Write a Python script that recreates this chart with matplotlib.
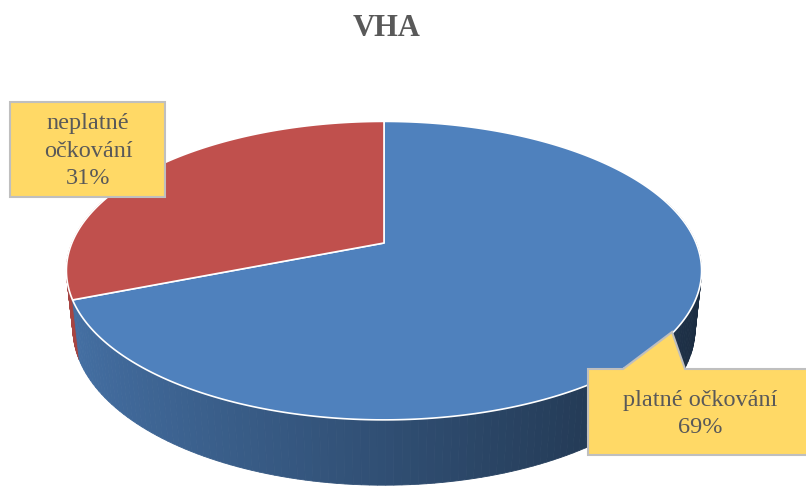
import numpy as np
import matplotlib.pyplot as plt
from matplotlib.patches import Polygon, FancyBboxPatch
from matplotlib.colors import to_rgb

# data
labels = ['platné očkování', 'neplatné očkování']
values = [69, 31]
colors = ['#4F81BD', '#C0504D']
title = 'VHA'

# 3d pie geometry (pixels)
cx, cy = 384, 243
elev = np.radians(27.5)
D = 4.79
f = 1495
T = 0.21


def proj(t, h):
    x = np.cos(t)
    z = np.sin(t)
    yc = h * np.cos(elev) + z * np.sin(elev)
    zc = -h * np.sin(elev) + z * np.cos(elev)
    return cx + f * x / (D + zc), cy - f * yc / (D + zc)


def shade(col, t):
    # light from the left, darker to the right
    k = np.clip(0.88 - 0.27 * (1 + np.cos(t)), 0.35, 1)
    return tuple(np.clip(np.array(to_rgb(col)) * k, 0, 1))


fig = plt.figure(figsize=(8.06, 4.86), dpi=100)
ax = fig.add_axes([0, 0, 1, 1])
ax.set_xlim(0, 806)
ax.set_ylim(486, 0)
ax.axis('off')

# slice angles, start at 12 o'clock, clockwise
total = sum(values)
bounds = [np.pi / 2]
for v in values:
    bounds.append(bounds[-1] - 2 * np.pi * v / total)

# side walls, back to front
segs = []
for i, col in enumerate(colors):
    t0, t1 = bounds[i + 1], bounds[i]
    ts = np.linspace(t0, t1, 200)
    for a, b in zip(ts[:-1], ts[1:]):
        depth = np.sin((a + b) / 2)
        segs.append((depth, a, b, col))
segs.sort(key=lambda s: -s[0])
for depth, a, b, col in segs:
    if depth > 0.3:
        continue
    p = [proj(a, 0), proj(b, 0), proj(b, -T), proj(a, -T)]
    c = shade(col, (a + b) / 2)
    ax.add_patch(Polygon(p, closed=True, facecolor=c, edgecolor=c, lw=0.6))

# top faces
for i, col in enumerate(colors):
    t0, t1 = bounds[i + 1], bounds[i]
    ts = np.linspace(t0, t1, 300)
    pts = [(cx, cy)] + [proj(t, 0) for t in ts]
    ax.add_patch(Polygon(pts, closed=True, facecolor=col, edgecolor='white', lw=1.2,
                         joinstyle='round'))

txt = '#595959'
font = 'Liberation Serif'

# labels
ax.add_patch(FancyBboxPatch((10, 102), 155, 95, boxstyle='square,pad=0',
                            facecolor='#FFD966', edgecolor='#BFBFBF', lw=1.5))
ax.text(88, 151, 'neplatné\nočkování\n' + str(values[1]) + '%', ha='center', va='center',
        fontsize=17.5, family=font, color=txt, linespacing=1.38)

box = [(588, 369), (623, 369), (672, 332), (685, 369), (808, 369), (808, 455), (588, 455)]
ax.add_patch(Polygon(box, closed=True, facecolor='#FFD966', edgecolor='#BFBFBF', lw=1.5))
ax.text(700, 414, 'platné očkování\n' + str(values[0]) + '%', ha='center', va='center',
        fontsize=17.5, family=font, color=txt, linespacing=1.38)

ax.text(387, 28, title, ha='center', va='center', fontsize=22, fontweight='bold',
        family=font, color=txt)

fig.savefig('out.png', dpi=100)
